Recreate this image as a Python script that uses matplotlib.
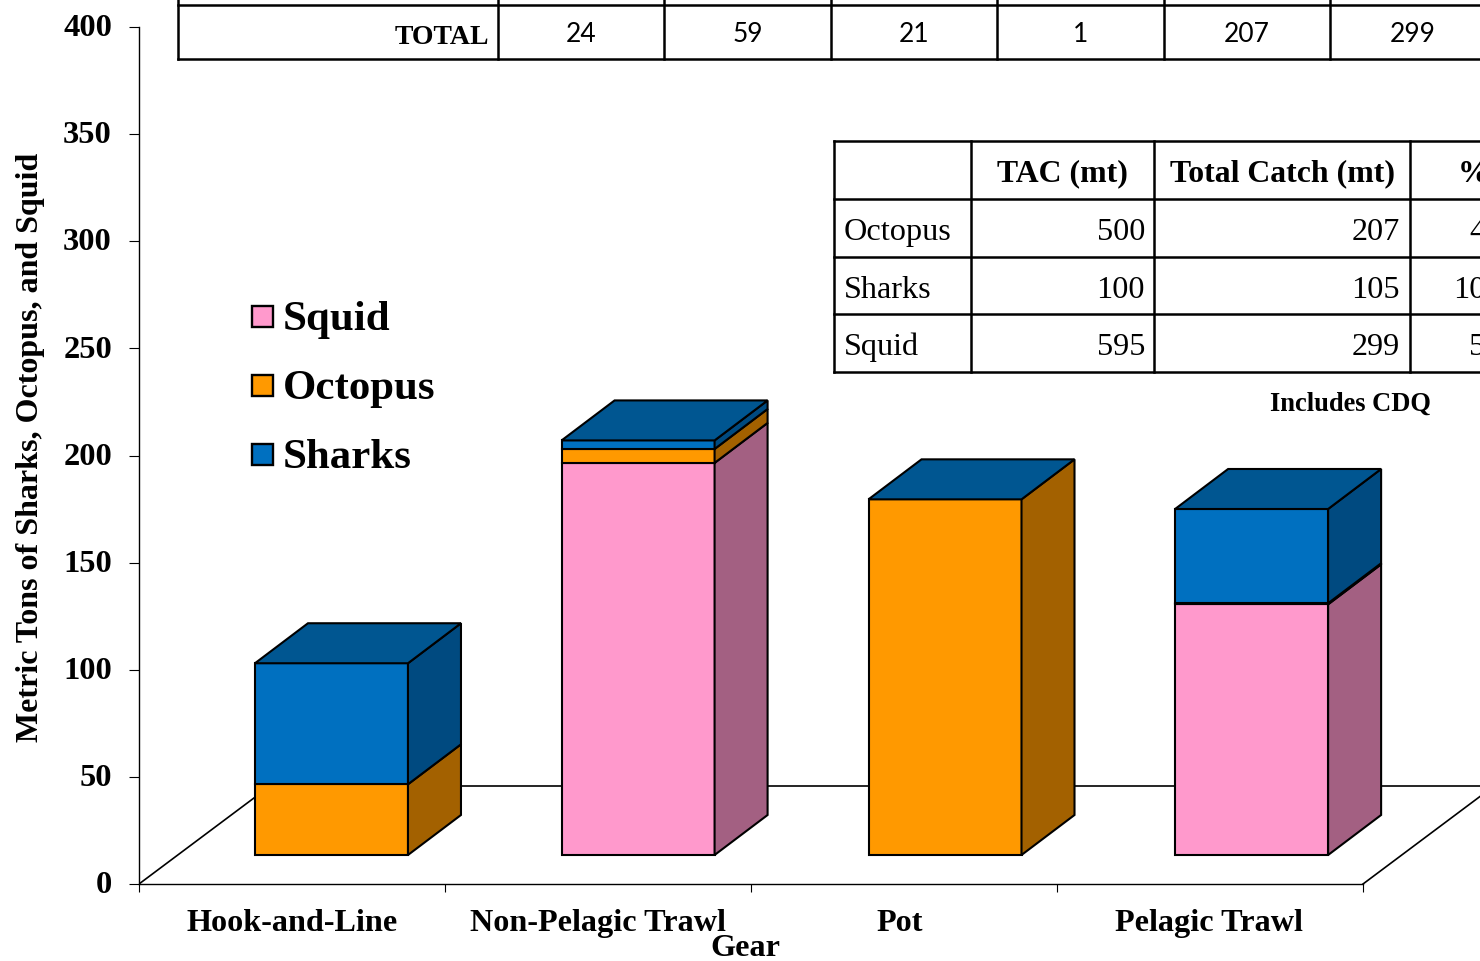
import matplotlib
matplotlib.use("Agg")
import matplotlib.pyplot as plt
from matplotlib.patches import Polygon, Rectangle
from matplotlib.transforms import ScaledTranslation

gears = ["Hook-and-Line", "Non-Pelagic Trawl", "Pot", "Pelagic Trawl"]
squid = [0, 183, 0, 117]
octopus = [33, 6.5, 166, 0.5]
sharks = [56.5, 4, 0, 44]

yticks = [0, 50, 100, 150, 200, 250, 300, 350, 400]

total_row = ["24", "59", "21", "1", "207", "299"]
tac_header = ["TAC (mt)", "Total Catch (mt)", "%"]
tac_species = ["Octopus", "Sharks", "Squid"]
tac = ["500", "100", "595"]
catch = ["207", "105", "299"]
pct = ["41", "105", "50"]

SERIF = "Liberation Serif"
W, H = 1480, 961
PX_X = 306.0      # px per category
PX_Y = 857 / 400  # px per ton

fig = plt.figure(figsize=(W / 100, H / 100), dpi=100, facecolor="white")
ax = fig.add_axes([139 / W, 1 - 884 / H, (W - 139) / W, 857 / H])
ax.set_xlim(0, (W - 139) / PX_X)
ax.set_ylim(0, 400)

##floor########
base = 29 / PX_Y
dx, dy = 53 / PX_X, 40 / PX_Y
floor_dx, floor_dy = 131 / PX_X, 98 / PX_Y
ax.plot([0, floor_dx], [0, floor_dy], color="black", lw=1.2, zorder=1)
ax.plot([4, 4 + floor_dx], [0, floor_dy], color="black", lw=1.2, zorder=1, clip_on=False)
ax.plot([floor_dx, 5], [floor_dy, floor_dy], color="black", lw=1.2, zorder=1)

##bars########
colors = {"squid": "#FF99CC", "octopus": "#FF9900", "sharks": "#0070C0"}
sides = {"squid": "#A36082", "octopus": "#A36100", "sharks": "#004A80"}
top_color = "#005691"
series = [("squid", squid), ("octopus", octopus), ("sharks", sharks)]
width = 153 / PX_X
bar_x = [0.629, 1.631, 2.634, 3.636]
label_x = [0.499, 1.499, 2.486, 3.498]
for i in range(len(gears)):
    left = bar_x[i] - width / 2
    right = left + width
    bottom = base
    for name, vals in series:
        v = vals[i]
        if v > 0:
            ax.bar(bar_x[i], v, width, bottom=bottom, color=colors[name],
                   edgecolor="black", lw=1.5, zorder=3)
            ax.add_patch(Polygon([(right, bottom), (right + dx, bottom + dy),
                                  (right + dx, bottom + v + dy), (right, bottom + v)],
                                 fc=sides[name], ec="black", lw=1.5, zorder=3))
        bottom += v
    ax.add_patch(Polygon([(left, bottom), (right, bottom), (right + dx, bottom + dy),
                          (left + dx, bottom + dy)],
                         fc=top_color, ec="black", lw=1.5, zorder=3))

##axes########
for s in ["top", "right"]:
    ax.spines[s].set_visible(False)
ax.spines["bottom"].set_bounds(0, 4)
ax.spines["left"].set_linewidth(1.0)
ax.spines["bottom"].set_linewidth(1.0)
ax.patch.set_alpha(0)
ax.set_yticks(yticks)
ax.set_yticklabels([str(t) for t in yticks], family=SERIF, weight="bold", fontsize=23.4)
ax.tick_params(axis="y", length=7, width=0.8, pad=12.5)
up = ScaledTranslation(0, 1.3 / 72, fig.dpi_scale_trans)
for lab in ax.get_yticklabels():
    lab.set_transform(lab.get_transform() + up)
ax.set_xticks(range(5))
ax.set_xticklabels([])
ax.tick_params(axis="x", which="major", length=6, width=0.8)
ax.set_xticks(label_x, minor=True)
ax.set_xticklabels(gears, minor=True, family=SERIF, weight="bold", fontsize=23.2)
ax.tick_params(axis="x", which="minor", length=0, pad=18)
ax.set_xlabel("Gear", family=SERIF, weight="bold", fontsize=23.2, va="center")
ax.xaxis.set_label_coords((745.5 - 139) / (W - 139), -(949 - 884) / 857)
ax.set_ylabel("Metric Tons of Sharks, Octopus, and Squid", family=SERIF, weight="bold", fontsize=23)
ax.yaxis.set_label_coords(-(139 - 31) / (W - 139), (884 - 447.5) / 857, ax.transAxes)
ax.yaxis.label.set_va("center")

##overlay in pixels: legend and tables#########
ov = fig.add_axes([0, 0, 1, 1])
ov.set_xlim(0, W)
ov.set_ylim(H, 0)
ov.axis("off")
ov.patch.set_alpha(0)

leg = [("Squid", "squid", 317), ("Octopus", "octopus", 386), ("Sharks", "sharks", 455)]
for label, key, y in leg:
    ov.add_patch(Rectangle((252, y - 11), 21, 21, fc=colors[key], ec="black", lw=1.7))
    ov.text(283, y + 3, label, family=SERIF, weight="bold", fontsize=30.9, va="center", ha="left")

TLW = 1.8
# top table, only last row shows
cols = [178, 498, 664, 831, 997, 1164, 1330, 1496]
ov.plot([178, W + 5], [4.5, 4.5], color="black", lw=TLW)
ov.plot([178, W + 5], [59, 59], color="black", lw=TLW)
for c in cols:
    ov.plot([c, c], [0, 59], color="black", lw=TLW)
ov.text(489, 37, "TOTAL", family=SERIF, weight="bold", fontsize=20, ha="right", va="center")
for i, t in enumerate(total_row):
    ov.text((cols[i + 1] + cols[i + 2]) / 2, 35, t, family="Lato", fontsize=19, ha="center", va="center")

# TAC table
xs = [834, 971, 1154, 1410, 1530]
ys = [141, 199, 257, 314, 372]
for y in ys:
    ov.plot([834, W + 5], [y, y], color="black", lw=TLW)
for x in xs:
    ov.plot([x, x], [141, 372], color="black", lw=TLW)
ov.text(1062.5, 174, tac_header[0], family=SERIF, weight="bold", fontsize=22.9, ha="center", va="center")
ov.text(1282, 174, tac_header[1], family=SERIF, weight="bold", fontsize=22.9, ha="center", va="center")
ov.text(1457.5, 174, tac_header[2], family=SERIF, weight="bold", fontsize=22.9, ha="left", va="center")
for i in range(3):
    y = (ys[i + 1] + ys[i + 2]) / 2 + 4.5
    ov.text(844, y, tac_species[i], family=SERIF, fontsize=23.2, ha="left", va="center")
    ov.text(1145, y, tac[i], family=SERIF, fontsize=23.2, ha="right", va="center")
    ov.text(1400, y, catch[i], family=SERIF, fontsize=23.2, ha="right", va="center")
    ov.text(1501.5, y, pct[i], family=SERIF, fontsize=23.2, ha="right", va="center")
ov.text(1350.5, 404, "Includes CDQ", family=SERIF, weight="bold", fontsize=19.1, ha="center", va="center")

fig.savefig("out.png", dpi=100)
